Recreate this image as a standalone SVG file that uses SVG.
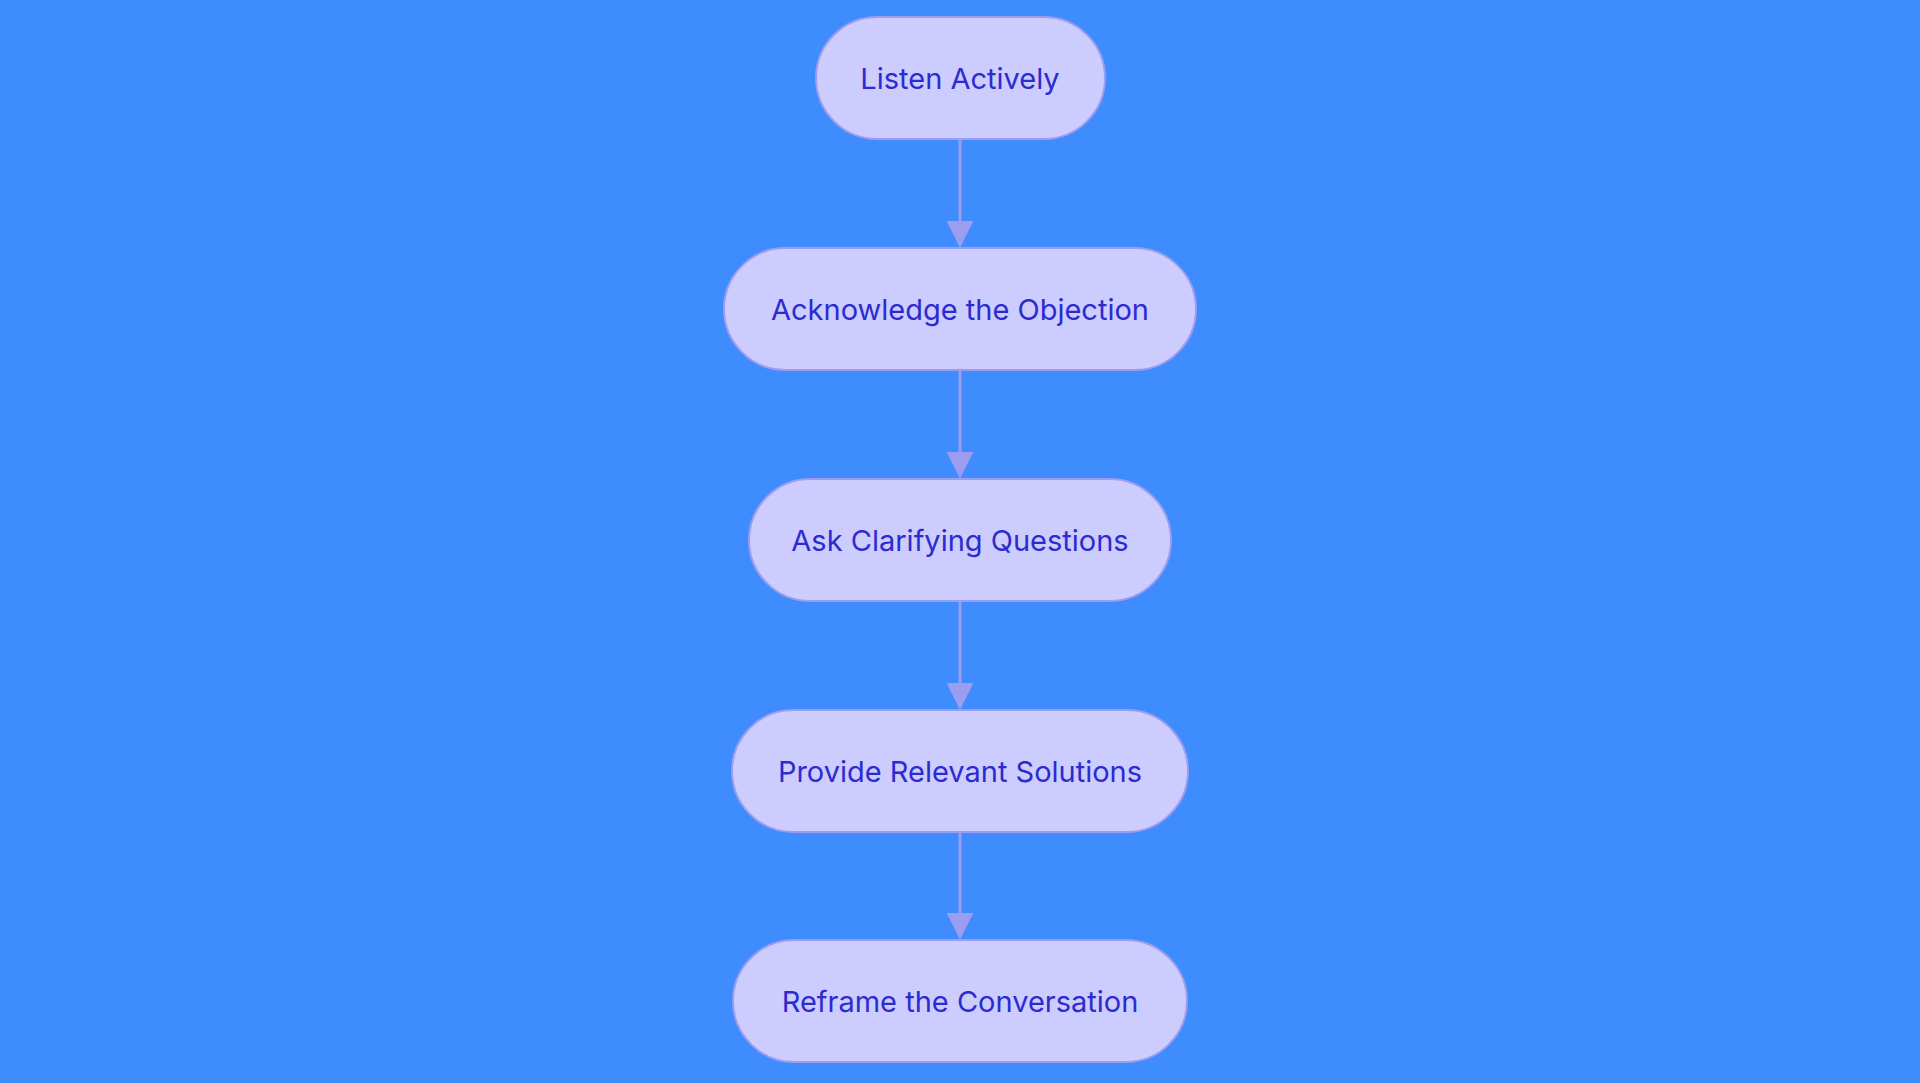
<svg xmlns="http://www.w3.org/2000/svg" width="1920" height="1083" viewBox="0 0 1920 1083">
<style>
.n{fill:#ccccff;stroke:#9c9cf0;stroke-width:2}
.t{font-family:Inter,"Noto Sans",sans-serif;font-size:29px;fill:#2b2bd0;text-anchor:middle;dominant-baseline:central}
.c{stroke:#9c9cf0;stroke-width:3;fill:none}
</style>
<defs><marker id="a" viewBox="0 0 10 10" refX="10" refY="5" markerWidth="9" markerHeight="9" markerUnits="userSpaceOnUse" orient="auto"><path d="M0,0L10,5L0,10z" fill="#9c9cf0"/></marker>
<marker id="m" viewBox="0 0 10 10" refX="9" refY="5" markerWidth="9" markerHeight="9" orient="auto"><path d="M0,0L10,5L0,10z" fill="#9c9cf0"/></marker></defs>
<rect width="1920" height="1083" fill="#3f8cff"/>
<g id="connectors">
<path class="c" d="M960 140V245" marker-end="url(#m)"/>
<path class="c" d="M960 370V476" marker-end="url(#m)"/>
<path class="c" d="M960 601V707" marker-end="url(#m)"/>
<path class="c" d="M960 832V937" marker-end="url(#m)"/>
</g>
<g id="n1"><rect class="n" x="816" y="17" width="289" height="122" rx="61"/><text class="t" x="960" y="78">Listen Actively</text></g>
<g id="n2"><rect class="n" x="724" y="248" width="472" height="122" rx="61"/><text class="t" x="960" y="309">Acknowledge the Objection</text></g>
<g id="n3"><rect class="n" x="749" y="479" width="422" height="122" rx="61"/><text class="t" x="960" y="540">Ask Clarifying Questions</text></g>
<g id="n4"><rect class="n" x="732" y="710" width="456" height="122" rx="61"/><text class="t" x="960" y="771">Provide Relevant Solutions</text></g>
<g id="n5"><rect class="n" x="733" y="940" width="454" height="122" rx="61"/><text class="t" x="960" y="1001">Reframe the Conversation</text></g>
</svg>
